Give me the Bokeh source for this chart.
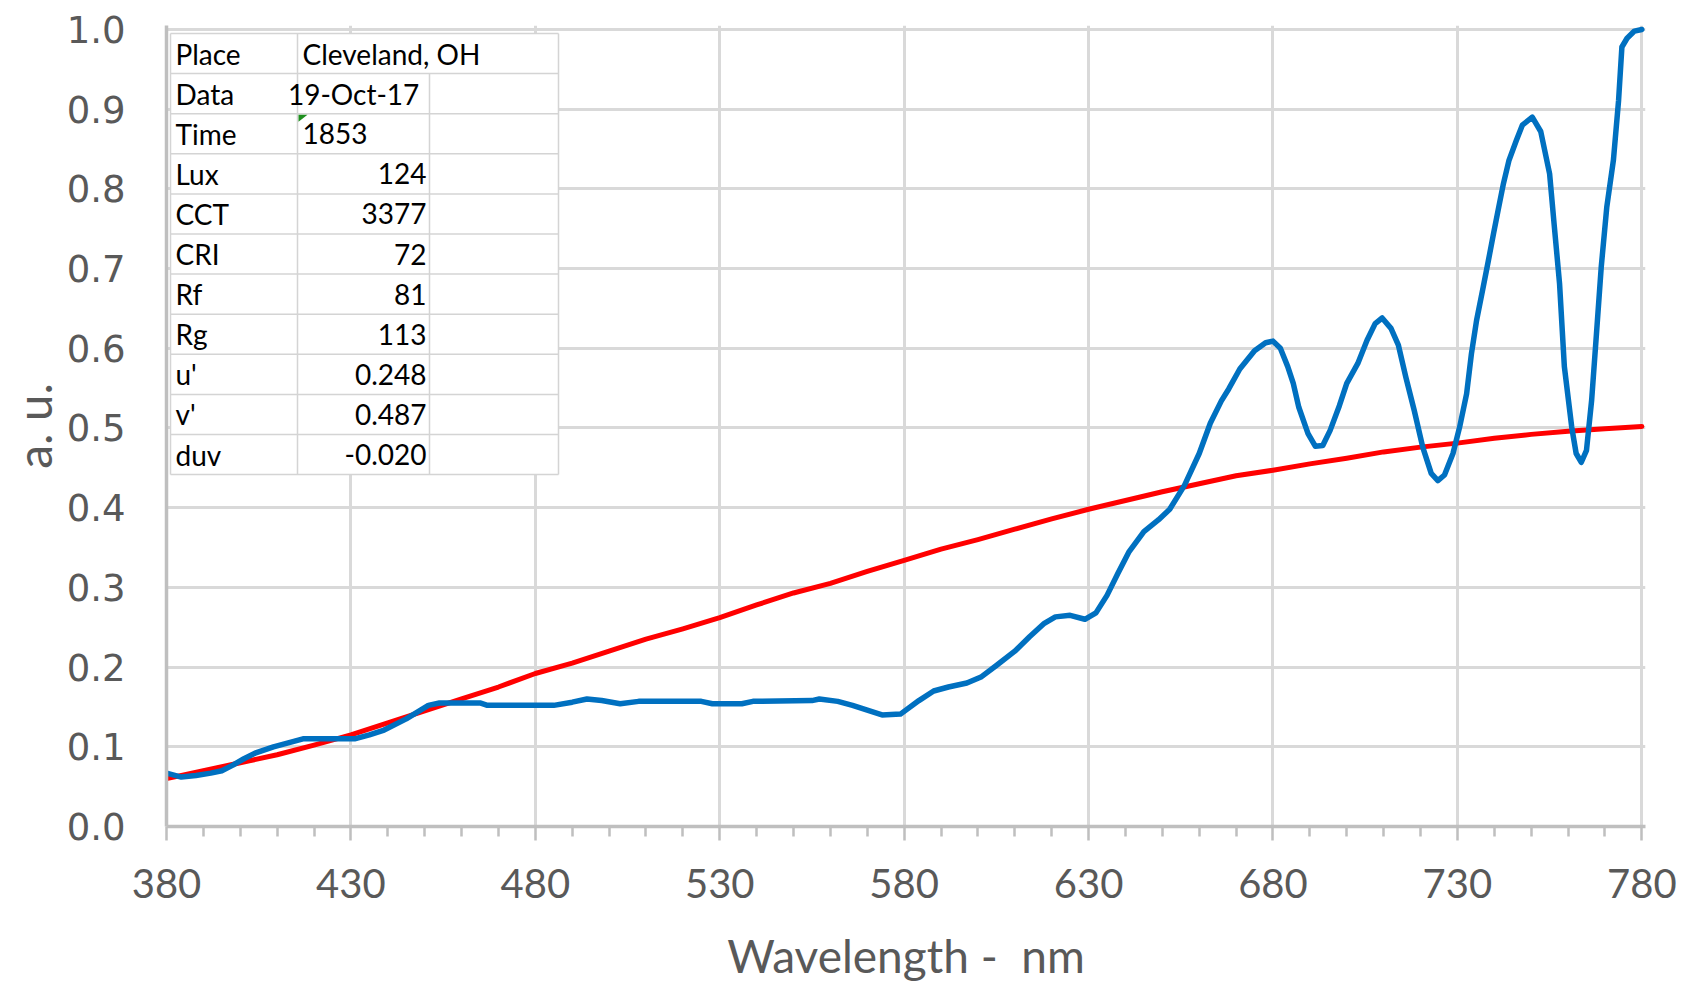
from bokeh.plotting import figure
from bokeh.models import FixedTicker, Range1d, NumeralTickFormatter
from bokeh.embed import file_html
from bokeh.resources import INLINE
from bokeh.core.properties import value

# ---------------- data ----------------
blue_nm = [380, 384, 388, 392, 395, 398, 401, 404, 409, 413, 417, 424, 431, 435, 439,
           445, 451, 454, 465, 467, 485, 490, 494, 498, 503, 508, 525, 528, 536, 539,
           555, 557, 562, 566, 570, 574, 579, 584, 588, 592, 597, 601, 605, 610, 614,
           618, 621, 625, 629, 632, 635, 638, 641, 645, 649, 652, 656, 660, 663, 666,
           668, 671, 675, 678, 680, 682, 684, 685.5, 687, 689.5, 691.5, 693.5, 695.5,
           698, 700, 703, 705.5, 707.7, 709.6, 712, 714, 716, 718.3, 720.6, 722.9,
           724.7, 726.5, 728.8, 730.6, 732.5, 733.8, 735.2, 737, 738.4, 739.8, 741.2,
           742.5, 744, 746, 747.6, 750.3, 752.6, 755, 756.3, 757.7, 759, 761, 762.2,
           763.6, 765, 766.4, 767.7, 769, 770.5, 772.3, 773.7, 774.6, 776, 778, 780]
blue_au = [0.067, 0.062, 0.064, 0.067, 0.070, 0.077, 0.085, 0.092, 0.100, 0.105, 0.110,
           0.110, 0.110, 0.115, 0.121, 0.135, 0.152, 0.155, 0.155, 0.152, 0.152, 0.156,
           0.160, 0.158, 0.154, 0.157, 0.157, 0.154, 0.154, 0.157, 0.158, 0.160, 0.157,
           0.152, 0.146, 0.140, 0.141, 0.158, 0.170, 0.175, 0.180, 0.188, 0.202, 0.220,
           0.238, 0.255, 0.263, 0.265, 0.260, 0.268, 0.290, 0.318, 0.345, 0.370, 0.385,
           0.398, 0.428, 0.468, 0.506, 0.534, 0.549, 0.574, 0.597, 0.607, 0.609, 0.600,
           0.577, 0.556, 0.526, 0.493, 0.477, 0.478, 0.497, 0.528, 0.556, 0.581, 0.610,
           0.631, 0.638, 0.625, 0.604, 0.564, 0.522, 0.476, 0.443, 0.434, 0.441, 0.468,
           0.501, 0.543, 0.593, 0.635, 0.677, 0.710, 0.744, 0.777, 0.807, 0.836, 0.861,
           0.880, 0.890, 0.872, 0.819, 0.752, 0.681, 0.577, 0.501, 0.468, 0.457, 0.472,
           0.535, 0.618, 0.702, 0.777, 0.836, 0.911, 0.978, 0.989, 0.998, 1.000]

red_nm = [380, 390, 400, 410, 420, 430, 440, 450, 460, 470, 480, 490, 500, 510, 520,
          530, 540, 550, 560, 570, 580, 590, 600, 610, 620, 630, 640, 650, 660, 670,
          680, 690, 700, 710, 720, 730, 740, 750, 760, 770, 780]
red_au = [0.060, 0.070, 0.080, 0.090, 0.102, 0.115, 0.130, 0.145, 0.160, 0.175, 0.192,
          0.205, 0.220, 0.235, 0.248, 0.262, 0.278, 0.293, 0.305, 0.320, 0.334, 0.348,
          0.360, 0.373, 0.386, 0.398, 0.409, 0.420, 0.430, 0.440, 0.447, 0.455, 0.462,
          0.470, 0.476, 0.481, 0.487, 0.492, 0.496, 0.499, 0.502]

x_ticks = [380, 430, 480, 530, 580, 630, 680, 730, 780]
x_minor = [390, 400, 410, 420, 440, 450, 460, 470, 490, 500, 510, 520, 540, 550, 560,
           570, 590, 600, 610, 620, 640, 650, 660, 670, 690, 700, 710, 720, 740, 750,
           760, 770]
y_ticks = [0.0, 0.1, 0.2, 0.3, 0.4, 0.5, 0.6, 0.7, 0.8, 0.9, 1.0]

table_keys = ["Place", "Data", "Time", "Lux", "CCT", "CRI", "Rf", "Rg", "u'", "v'", "duv"]
table_vals = ["Cleveland, OH", " 19-Oct-17", "1853", "124", "3377", "72", "81", "113",
              "0.248", "0.487", "-0.020"]
table_val_align = ["left", "right", "left", "right", "right", "right", "right", "right",
                   "right", "right", "right"]

x_title = "Wavelength -  nm"
y_title = "a. u."

# ---------------- layout ----------------
W, H = 1682, 985
LEFT, RIGHT, TOP, BOTTOM = 166, 37, 25, 157
X0, X1 = 380, 781
Y0, Y1 = 0.0, 1.005
FW = W - LEFT - RIGHT
FH = H - TOP - BOTTOM
PXX = FW / (X1 - X0)
PXY = FH / (Y1 - Y0)

def dx(px):   # canvas pixel -> data x
    return X0 + (px - LEFT) / PXX

def dy(py):
    return Y1 - (py - TOP) / PXY

GRID = "#d9d9d9"
AXIS = "#bfbfbf"
TXT = "#595959"

p = figure(width=W, height=H, x_range=Range1d(X0, X1), y_range=Range1d(Y0, Y1),
           output_backend="svg", toolbar_location=None,
           min_border_left=LEFT, min_border_right=RIGHT,
           min_border_top=TOP, min_border_bottom=BOTTOM)
p.outline_line_color = None
p.background_fill_color = "white"

p.xaxis.ticker = FixedTicker(ticks=x_ticks, minor_ticks=x_minor)
p.yaxis.ticker = FixedTicker(ticks=y_ticks)
p.yaxis.formatter = NumeralTickFormatter(format="0.0")

p.xgrid.grid_line_color = GRID
p.xgrid.grid_line_width = 3
p.ygrid.grid_line_color = GRID
p.ygrid.grid_line_width = 3

for ax in (p.xaxis[0], p.yaxis[0]):
    ax.axis_line_color = AXIS
    ax.axis_line_width = 3.5
    ax.major_tick_line_color = AXIS
    ax.minor_tick_line_color = AXIS
    ax.major_tick_line_width = 2.5
    ax.minor_tick_line_width = 2.5
    ax.major_label_text_color = TXT
    ax.axis_label_text_color = TXT
    ax.axis_label_text_font = "Lato"
    ax.axis_label_text_font_style = "normal"

p.xaxis.major_tick_in = 0
p.xaxis.major_tick_out = 14
p.xaxis.minor_tick_in = 0
p.xaxis.minor_tick_out = 10
p.xaxis.major_label_standoff = 28
p.xaxis.major_label_text_font = "Lato"
p.xaxis.major_label_text_font_size = "40px"
# keep the double space visible in SVG text
p.xaxis.axis_label = x_title.replace("  ", " \u00a0")
p.xaxis.axis_label_text_font_size = "46px"
p.xaxis.axis_label_standoff = 27

p.yaxis.major_tick_in = 0
p.yaxis.major_tick_out = 0
p.yaxis.minor_tick_in = 0
p.yaxis.minor_tick_out = 0
p.yaxis.major_label_standoff = 41
p.yaxis.major_label_text_font = "DejaVu Sans"
p.yaxis.major_label_text_font_size = "37px"
p.yaxis.axis_label = y_title
p.yaxis.axis_label_text_font_size = "48px"
p.yaxis.axis_label_text_baseline = "bottom"
p.yaxis.axis_label_standoff = 2

# curves
p.line(red_nm, red_au, line_color="#ff0000", line_width=5,
       line_join="round", line_cap="round")
p.line(blue_nm, blue_au, line_color="#0070c0", line_width=5.5,
       line_join="round", line_cap="round")

# ---------------- info table ----------------
TX = [170, 297, 429, 558]
TY0 = 33
RH = 40.2
n = len(table_keys)
TY1 = TY0 + n * RH

p.quad(left=[dx(TX[0])], right=[dx(TX[3])], top=[dy(TY0)], bottom=[dy(TY1)],
       fill_color="white", line_color=None)

seg_x0, seg_x1, seg_y0, seg_y1 = [], [], [], []
for i in range(n + 1):
    yy = dy(TY0 + i * RH)
    seg_x0.append(dx(TX[0])); seg_x1.append(dx(TX[3]))
    seg_y0.append(yy); seg_y1.append(yy)
for xx in (TX[0], TX[1], TX[3]):
    seg_x0.append(dx(xx)); seg_x1.append(dx(xx))
    seg_y0.append(dy(TY0)); seg_y1.append(dy(TY1))
seg_x0.append(dx(TX[2])); seg_x1.append(dx(TX[2]))
seg_y0.append(dy(TY0 + RH)); seg_y1.append(dy(TY1))
p.segment(seg_x0, seg_y0, seg_x1, seg_y1, line_color="#d4d4d4", line_width=1.5)

# green indicator on the "Time" value cell
ti = table_keys.index("Time")
ty = TY0 + ti * RH + 1
p.patch([dx(TX[1] + 1), dx(TX[1] + 10), dx(TX[1] + 1)],
        [dy(ty), dy(ty), dy(ty + 7)], fill_color="#1e8f1e", line_color=None)

row_y = [dy(TY0 + (i + 0.5) * RH) for i in range(n)]
p.text(x=[dx(TX[0] + 5)] * n, y=row_y, text=table_keys,
       text_font=value("Lato"), text_font_size="28px", text_color="#000000",
       text_align="left", text_baseline="middle")
for al in ("left", "right"):
    idx = [i for i in range(n) if table_val_align[i] == al]
    xs = [dx(TX[1] + 5) if al == "left" else dx(TX[2] - 3) for _ in idx]
    p.text(x=xs, y=[row_y[i] for i in idx], text=[table_vals[i] for i in idx],
           text_font=value("Lato"), text_font_size="28px", text_color="#000000",
           text_align=al, text_baseline="middle")

open("out.html", "w").write(file_html(p, INLINE))
